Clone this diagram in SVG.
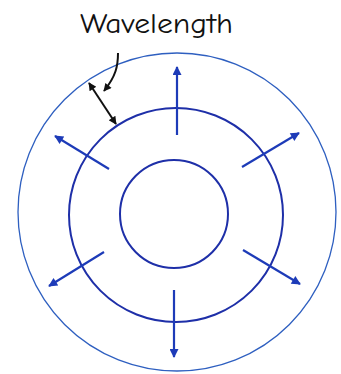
<svg xmlns="http://www.w3.org/2000/svg" width="341" height="374" viewBox="0 0 341 374">
<defs>
<marker id="ab" viewBox="0 0 10 10" refX="9" refY="5" markerWidth="12" markerHeight="9" markerUnits="userSpaceOnUse" orient="auto"><path d="M0,0 L10,5 L0,10 Z" fill="#1d3bb8"/></marker>
<marker id="ak" viewBox="0 0 10 10" refX="9" refY="5" markerWidth="11" markerHeight="8" markerUnits="userSpaceOnUse" orient="auto-start-reverse"><path d="M0,0 L10,5 L0,10 Z" fill="#111"/></marker>
<style>
.w{fill:none;stroke:#1e2fa8;stroke-width:2}
.o{fill:none;stroke:#2e5fc0;stroke-width:1.3}
.a{fill:none;stroke:#1d3bb8;stroke-width:2.2;marker-end:url(#ab)}
.k{fill:none;stroke:#111;stroke-width:2}
</style>
</defs>
<rect width="341" height="374" fill="#fff"/>
<g id="outer"><circle class="o" cx="177" cy="212" r="159"/></g>
<g id="middle"><circle class="w" cx="176" cy="215" r="107"/></g>
<g id="inner"><circle class="w" cx="174" cy="214" r="54"/></g>
<g id="label"><text x="80" y="33" font-family="'Comic Neue','Liberation Sans',sans-serif" font-size="29" textLength="153" lengthAdjust="spacingAndGlyphs" fill="#111">Wavelength</text></g>
<g id="connectors">
<line class="a" x1="177" y1="135" x2="177" y2="67"/>
<line class="a" x1="174" y1="290" x2="174" y2="357"/>
<line class="a" x1="109" y1="169" x2="55" y2="136"/>
<line class="a" x1="242" y1="167" x2="299" y2="133"/>
<line class="a" x1="104" y1="252" x2="49" y2="286"/>
<line class="a" x1="243" y1="250" x2="300" y2="284"/>
<path class="k" d="M118,53 C118,66 116,76 104,91" marker-end="url(#ak)"/>
<line class="k" x1="89" y1="83" x2="116" y2="124" marker-start="url(#ak)" marker-end="url(#ak)"/>
</g>
</svg>
